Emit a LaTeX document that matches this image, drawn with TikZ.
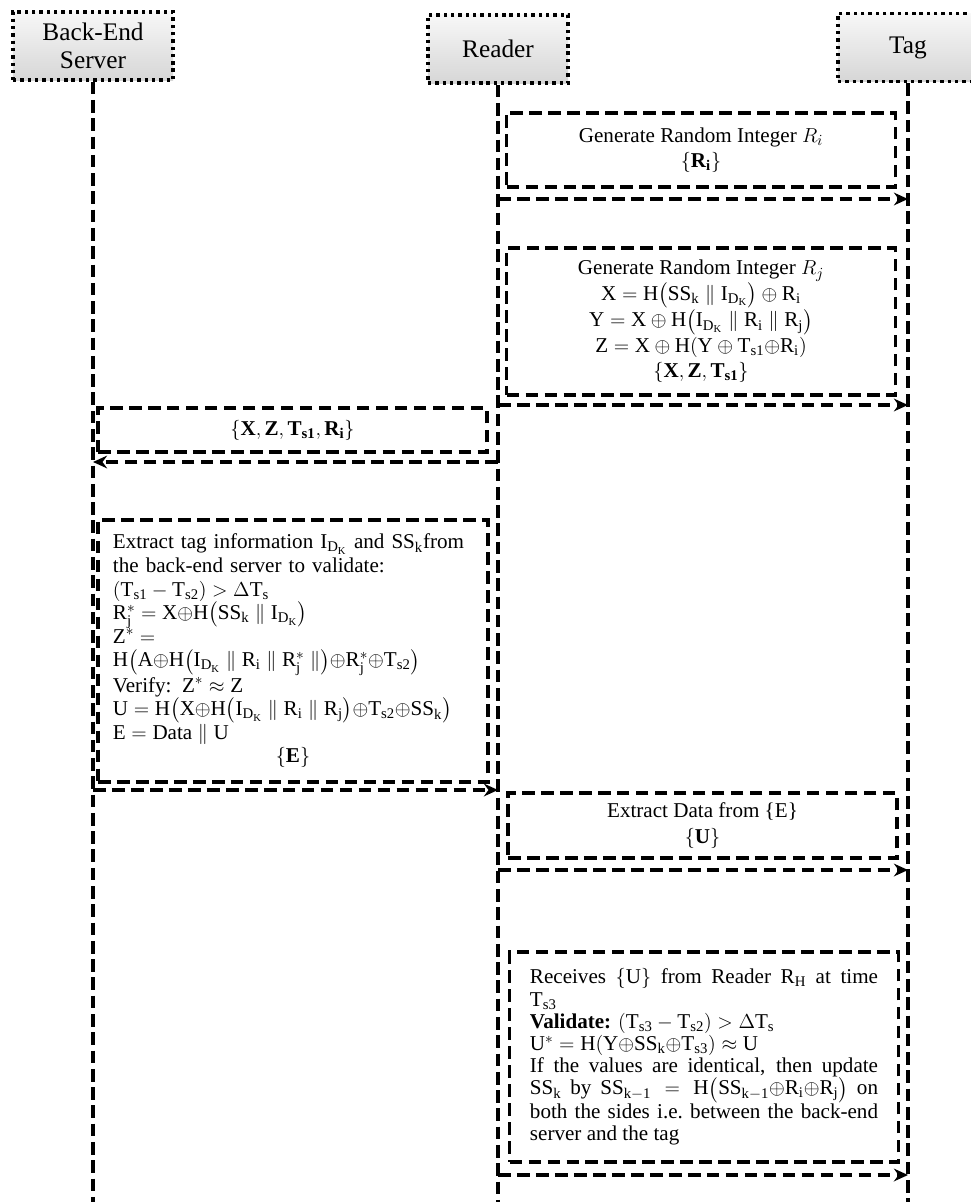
\documentclass[tikz,border=0pt]{standalone}
\usepackage{amsmath, amssymb}
\usepackage{fontspec}
\setmainfont{Liberation Serif}
\usetikzlibrary{arrows.meta}
\newcommand{\IDK}{\mathrm{I}_{\mathrm{D_K}}}

\begin{document}
\begin{tikzpicture}[
  x=0.025cm, y=-0.025cm,
  actor/.style={draw, line width=2.4pt, dash pattern=on 2.4pt off 2.8pt, top color=gray!6, bottom color=gray!32, minimum height=1.7cm, minimum width=3.5cm, align=center, font=\fontsize{18}{20}\selectfont},
  msgbox/.style={draw, line width=2.5pt, dash pattern=on 9pt off 4.5pt, minimum width=9.72cm, align=center, font=\fontsize{15}{18}\selectfont},
  lifeline/.style={line width=2.6pt, dash pattern=on 9pt off 4pt},
  arrow/.style={-{Stealth[length=10pt,width=9pt]}, line width=2.5pt, dash pattern=on 9pt off 4.5pt},
]
\useasboundingbox (0,0) rectangle (971,1202);

% Participants
\node[actor, minimum width=4.0cm] (server) at (93,46) {Back-End\\Server};
\node[actor] (reader) at (498,49) {Reader};
\node[actor] (tag) at (908,47.5) {Tag};

% Lifelines
\coordinate (bottom) at (0,1202);
\draw[lifeline] (server.south) -- (server.south |- bottom);
\draw[lifeline] (reader.south) -- (reader.south |- bottom);
\draw[lifeline] (tag.south) -- (tag.south |- bottom);

% Reader side
\node[msgbox, minimum height=1.85cm] (rand1) at (701,150) {Generate Random Integer $R_i$\\$\{\mathbf{R_i}\}$};
\node[msgbox, minimum height=3.675cm] (rand2) at (701,321.5) {Generate Random Integer $R_j$\\
  $\mathrm{X} = \mathrm{H}\bigl(\mathrm{SS_k} \parallel \IDK\bigr) \oplus \mathrm{R_i}$\\
  $\mathrm{Y} = \mathrm{X} \oplus \mathrm{H}\bigl(\IDK \parallel \mathrm{R_i} \parallel \mathrm{R_j}\bigr)$\\
  $\mathrm{Z} = \mathrm{X} \oplus \mathrm{H}(\mathrm{Y} \oplus \mathrm{T_{s1}}{\oplus}\mathrm{R_i})$\\
  $\{\mathbf{X, Z, T_{s1}}\}$};

% Server side
\node[msgbox, minimum height=1.1cm] (fwd) at (292.5,430) {$\{\mathbf{X, Z, T_{s1}, R_i}\}$};
\node[msgbox, minimum height=6.55cm, text width=9.0cm, inner xsep=0.375cm, align=left, font=\fontsize{15}{16.8}\selectfont] (check) at (293,651) {Extract tag information $\IDK$ and $\mathrm{SS_k}$from\\
  the back-end server to validate:\\
  $(\mathrm{T_{s1}} - \mathrm{T_{s2}}) > \Delta\mathrm{T_s}$\\
  $\mathrm{R_j^*} = \mathrm{X}{\oplus}\mathrm{H}\bigl(\mathrm{SS_k} \parallel \IDK\bigr)$\\
  $\mathrm{Z^*} =$\\
  $\mathrm{H}\bigl(\mathrm{A}{\oplus}\mathrm{H}\bigl(\IDK \parallel \mathrm{R_i} \parallel \mathrm{R_j^*} \parallel\bigr){\oplus}\mathrm{R_j^*}{\oplus}\mathrm{T_{s2}}\bigr)$\\
  Verify: $\mathrm{Z^*} \approx \mathrm{Z}$\\
  $\mathrm{U} = \mathrm{H}\bigl(\mathrm{X}{\oplus}\mathrm{H}\bigl(\IDK \parallel \mathrm{R_i} \parallel \mathrm{R_j}\bigr){\oplus}\mathrm{T_{s2}}{\oplus}\mathrm{SS_k}\bigr)$\\
  $\mathrm{E} = \mathrm{Data} \parallel \mathrm{U}$\\
  \makebox[\linewidth]{$\{\mathbf{E}\}$}};

% Reader / Tag again
\node[msgbox, minimum height=1.625cm] (extract) at (702.5,825.5) {Extract Data from \{E\}\\$\{\mathbf{U}\}$};
\node[msgbox, minimum height=5.25cm, text width=8.7cm, inner xsep=0.5cm, align=justify, font=\fontsize{15}{15.8}\selectfont] (update) at (704,1057) {Receives $\{\mathrm{U}\}$ from Reader $\mathrm{R_H}$ at time\linebreak
  $\mathrm{T_{s3}}$\\
  \textbf{Validate:} $(\mathrm{T_{s3}} - \mathrm{T_{s2}}) > \Delta\mathrm{T_s}$\\
  $\mathrm{U^*} = \mathrm{H}(\mathrm{Y}{\oplus}\mathrm{SS_k}{\oplus}\mathrm{T_{s3}}) \approx \mathrm{U}$\\
  If the values are identical, then update\linebreak
  $\mathrm{SS_k}$ by $\mathrm{SS_{k-1}} = \mathrm{H}\bigl(\mathrm{SS_{k-1}}{\oplus}\mathrm{R_i}{\oplus}\mathrm{R_j}\bigr)$ on\linebreak
  both the sides i.e.\ between the back-end\linebreak
  server and the tag};

% Messages
\coordinate (m1) at (0,199);
\coordinate (m2) at (0,405);
\coordinate (m3) at (0,462);
\coordinate (m4) at (0,790);
\coordinate (m5) at (0,870);
\coordinate (m6) at (0,1175);
\draw[arrow] (reader |- m1) -- (tag |- m1);
\draw[arrow] (reader |- m2) -- (tag |- m2);
\draw[arrow] (reader |- m3) -- (server |- m3);
\draw[arrow] (server |- m4) -- (reader |- m4);
\draw[arrow] (reader |- m5) -- (tag |- m5);
\draw[arrow] (reader |- m6) -- (tag |- m6);
\end{tikzpicture}
\end{document}
